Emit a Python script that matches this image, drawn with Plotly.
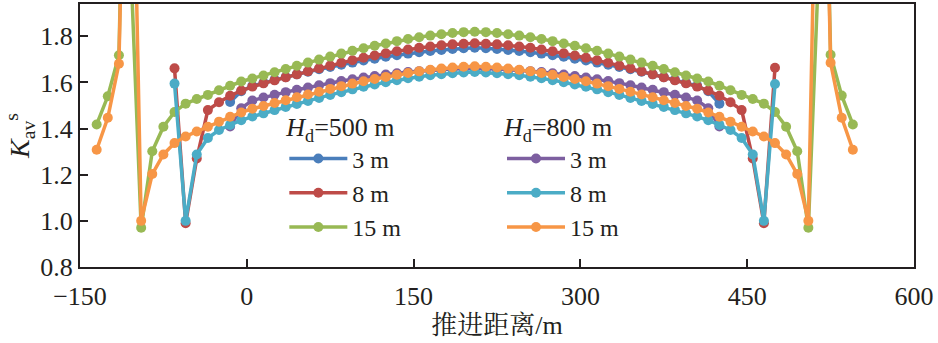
import plotly.graph_objects as go

# ---------------- data ----------------
X_3M = [-15, -5, 5, 15, 25, 35, 45, 55, 65, 75, 85, 95, 105, 115, 125, 135, 145, 155, 165, 175, 185, 195,
        205, 215, 225, 235, 245, 255, 265, 275, 285, 295, 305, 315, 325, 335, 345, 355, 365, 375, 385, 395,
        405, 415, 425]
X_8M = [-65, -55, -45, -35, -25, -15, -5, 5, 15, 25, 35, 45, 55, 65, 75, 85, 95, 105, 115, 125, 135, 145,
        155, 165, 175, 185, 195, 205, 215, 225, 235, 245, 255, 265, 275, 285, 295, 305, 315, 325, 335, 345,
        355, 365, 375, 385, 395, 405, 415, 425, 435, 445, 455, 465, 475]
X_15M_G = [-135, -125, -115, -110, -95, -85, -75, -65, -55, -45, -35, -25, -15, -5, 5, 15, 25, 35, 45, 55, 65,
           75, 85, 95, 105, 115, 125, 135, 145, 155, 165, 175, 185, 195, 205, 215, 225, 235, 245, 255, 265,
           275, 285, 295, 305, 315, 325, 335, 345, 355, 365, 375, 385, 395, 405, 415, 425, 435, 445, 455,
           465, 475, 485, 495, 505, 520, 525, 535, 545]
X_15M_O = [-135, -125, -115, -106, -95, -85, -75, -65, -55, -45, -35, -25, -15, -5, 5, 15, 25, 35, 45, 55, 65,
           75, 85, 95, 105, 115, 125, 135, 145, 155, 165, 175, 185, 195, 205, 215, 225, 235, 245, 255, 265,
           275, 285, 295, 305, 315, 325, 335, 345, 355, 365, 375, 385, 395, 405, 415, 425, 435, 445, 455,
           465, 475, 485, 495, 505, 516, 525, 535, 545]

# Hd = 500 m
K_500_3 = [1.515, 1.562, 1.585, 1.598, 1.611, 1.623, 1.635, 1.646, 1.657, 1.667, 1.677, 1.686, 1.695, 1.703,
           1.711, 1.718, 1.725, 1.731, 1.736, 1.741, 1.745, 1.748, 1.750, 1.748, 1.745, 1.741, 1.736, 1.731,
           1.725, 1.718, 1.711, 1.703, 1.695, 1.686, 1.677, 1.667, 1.657, 1.646, 1.635, 1.623, 1.611, 1.598,
           1.585, 1.562, 1.508]
K_500_8 = [1.661, 0.990, 1.270, 1.480, 1.514, 1.542, 1.565, 1.582, 1.596, 1.609, 1.622, 1.635, 1.648, 1.661,
           1.673, 1.685, 1.696, 1.707, 1.717, 1.726, 1.735, 1.743, 1.750, 1.756, 1.761, 1.765, 1.768, 1.770,
           1.768, 1.765, 1.761, 1.756, 1.750, 1.743, 1.735, 1.726, 1.717, 1.707, 1.696, 1.685, 1.673, 1.661,
           1.648, 1.635, 1.622, 1.609, 1.596, 1.582, 1.565, 1.542, 1.514, 1.480, 1.270, 0.990, 1.664]
K_500_15 = [1.418, 1.540, 1.718, 2.800, 0.970, 1.302, 1.408, 1.472, 1.508, 1.528, 1.546, 1.566, 1.586, 1.604,
            1.617, 1.630, 1.644, 1.658, 1.672, 1.686, 1.699, 1.712, 1.725, 1.737, 1.748, 1.759, 1.769, 1.779,
            1.788, 1.796, 1.803, 1.809, 1.814, 1.818, 1.820, 1.818, 1.814, 1.809, 1.803, 1.796, 1.788, 1.779,
            1.769, 1.759, 1.748, 1.737, 1.725, 1.712, 1.699, 1.686, 1.672, 1.658, 1.644, 1.630, 1.617, 1.604,
            1.586, 1.566, 1.546, 1.528, 1.508, 1.472, 1.408, 1.302, 0.970, 2.800, 1.720, 1.543, 1.418]
# Hd = 800 m
K_800_3 = [1.409, 1.488, 1.522, 1.535, 1.547, 1.558, 1.568, 1.578, 1.588, 1.597, 1.606, 1.614, 1.621, 1.628,
           1.634, 1.640, 1.645, 1.649, 1.653, 1.656, 1.658, 1.659, 1.660, 1.659, 1.658, 1.656, 1.653, 1.649,
           1.645, 1.640, 1.634, 1.628, 1.621, 1.614, 1.606, 1.597, 1.588, 1.578, 1.568, 1.558, 1.547, 1.535,
           1.522, 1.488, 1.409]
K_800_8 = [1.595, 1.000, 1.288, 1.359, 1.394, 1.416, 1.436, 1.452, 1.466, 1.480, 1.494, 1.507, 1.520, 1.533,
           1.546, 1.558, 1.570, 1.581, 1.591, 1.601, 1.610, 1.618, 1.625, 1.631, 1.636, 1.640, 1.643, 1.645,
           1.643, 1.640, 1.636, 1.631, 1.625, 1.618, 1.610, 1.601, 1.591, 1.581, 1.570, 1.558, 1.546, 1.533,
           1.520, 1.507, 1.494, 1.480, 1.466, 1.452, 1.436, 1.416, 1.394, 1.359, 1.288, 1.000, 1.593]
K_800_15 = [1.308, 1.447, 1.681, 3.600, 1.000, 1.203, 1.288, 1.337, 1.366, 1.387, 1.408, 1.430, 1.451, 1.470,
            1.486, 1.498, 1.511, 1.523, 1.536, 1.548, 1.560, 1.572, 1.584, 1.595, 1.605, 1.615, 1.624, 1.633,
            1.641, 1.648, 1.655, 1.660, 1.665, 1.668, 1.670, 1.668, 1.665, 1.660, 1.655, 1.648, 1.641, 1.633,
            1.624, 1.615, 1.605, 1.595, 1.584, 1.572, 1.560, 1.548, 1.536, 1.523, 1.511, 1.498, 1.486, 1.470,
            1.451, 1.430, 1.408, 1.387, 1.366, 1.337, 1.288, 1.203, 1.000, 3.600, 1.685, 1.447, 1.308]

SERIES_NAMES = ["3 m", "8 m", "15 m"]
LEGEND_TITLES = ["<i>H</i><sub>d</sub>=500 m", "<i>H</i><sub>d</sub>=800 m"]
X_TICKS = [-150, 0, 150, 300, 450, 600]
Y_TICKS = [0.8, 1.0, 1.2, 1.4, 1.6, 1.8]

COLORS_500 = ["#4A7EBB", "#BE4B48", "#98B954"]
COLORS_800 = ["#7D5FA0", "#4BACC6", "#F79646"]

FONT = "Times New Roman, Liberation Serif, Noto Serif CJK SC, Noto Sans CJK SC, serif"
INK = "#231F20"

fig = go.Figure()
groups = [
    ([X_3M, X_8M, X_15M_G], [K_500_3, K_500_8, K_500_15], COLORS_500, "legend"),
    ([X_3M, X_8M, X_15M_O], [K_800_3, K_800_8, K_800_15], COLORS_800, "legend2"),
]
for xs, ys, cols, lg in groups:
    for x, y, c, nm in zip(xs, ys, cols, SERIES_NAMES):
        fig.add_trace(go.Scatter(
            x=x, y=y, name=nm, mode="lines+markers", legend=lg,
            line=dict(color=c, width=3.5),
            marker=dict(color=c, size=10),
        ))

leg_common = dict(
    xanchor="left", yanchor="top", bgcolor="rgba(0,0,0,0)",
    font=dict(family=FONT, size=24, color=INK),
    tracegroupgap=0, itemwidth=58,
)
fig.update_layout(
    width=938, height=343,
    margin=dict(l=80, r=24, t=2, b=76),
    paper_bgcolor="white", plot_bgcolor="white",
    font=dict(family=FONT, size=26, color=INK),
    showlegend=True,
    legend=dict(x=0.245, y=0.625, title=dict(text=LEGEND_TITLES[0], font=dict(family=FONT, size=26, color=INK)), **leg_common),
    legend2=dict(x=0.506, y=0.625, title=dict(text=LEGEND_TITLES[1], font=dict(family=FONT, size=26, color=INK)), **leg_common),
    xaxis=dict(
        range=[-150, 600], tickvals=X_TICKS, ticks="inside", ticklen=8, tickwidth=1.5,
        tickcolor=INK, showline=True, linecolor=INK, linewidth=2, mirror=True, ticklabelstandoff=5,
        showgrid=False, zeroline=False, tickfont=dict(family=FONT, size=26, color=INK),
        title=dict(text="推进距离/m", font=dict(family=FONT, size=26, color=INK), standoff=2),
    ),
    yaxis=dict(
        range=[0.8, 1.94], tickvals=Y_TICKS, tickformat=".1f", ticks="inside", ticklen=8, tickwidth=1.5,
        tickcolor=INK, showline=True, linecolor=INK, linewidth=2, mirror=True,
        showgrid=False, zeroline=False, tickfont=dict(family=FONT, size=26, color=INK),
        title=dict(text="<i>K</i><sub>av</sub><sup>s</sup>", font=dict(family=FONT, size=28, color=INK), standoff=2),
    ),
)
fig.write_html("out.html")
